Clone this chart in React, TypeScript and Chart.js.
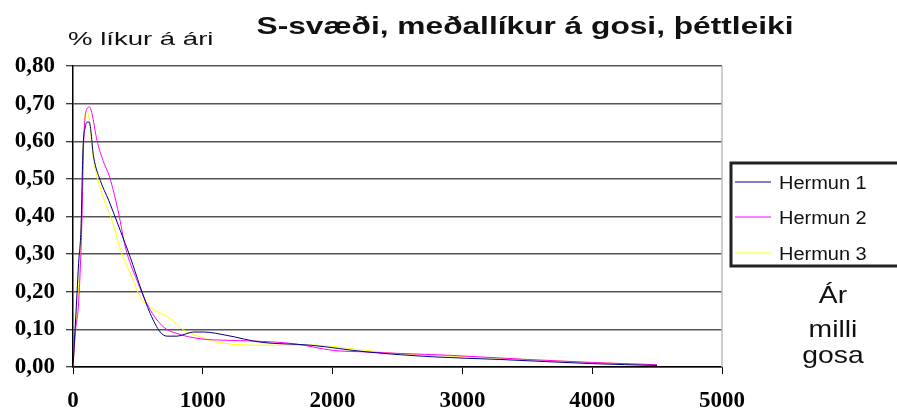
import React, { useEffect, useRef } from "react";
import { Chart, registerables } from "chart.js";

Chart.register(...registerables);

const titleText = "S-svæði, meðallíkur á gosi, þéttleiki";
const yTitleText = "% líkur á ári";
const xTitleLines = ["Ár", "milli", "gosa"];
const seriesNames = ["Hermun 1", "Hermun 2", "Hermun 3"];
const seriesColors = ["#000080", "#FF00FF", "#FFFF00"];

const xTicks = [0, 1000, 2000, 3000, 4000, 5000];
const yTicks = [0, 0.1, 0.2, 0.3, 0.4, 0.5, 0.6, 0.7, 0.8];

const h1X = [0, 31, 43, 62, 77, 95, 110, 125, 159, 210, 275, 364, 441, 518, 595, 672, 724, 801, 929, 1006, 1186, 1443, 1828, 2265, 2778, 3292, 3998, 4499];
const h1Y = [0, 0.196, 0.275, 0.372, 0.58, 0.638, 0.651, 0.651, 0.558, 0.496, 0.443, 0.363, 0.292, 0.213, 0.142, 0.093, 0.082, 0.082, 0.093, 0.093, 0.084, 0.066, 0.058, 0.04, 0.027, 0.02, 0.009, 0.004];

const h2X = [0, 18, 43, 69, 82, 102, 128, 146, 185, 231, 282, 352, 403, 493, 583, 698, 801, 981, 1186, 1392, 1700, 2008, 2265, 2521, 2907, 3500, 4000, 4499];
const h2Y = [0, 0.092, 0.17, 0.39, 0.594, 0.682, 0.691, 0.674, 0.602, 0.549, 0.505, 0.408, 0.319, 0.23, 0.159, 0.106, 0.089, 0.075, 0.071, 0.069, 0.062, 0.044, 0.04, 0.036, 0.031, 0.02, 0.012, 0.006];

const h3X = [0, 20, 45, 65, 80, 100, 115, 159, 223, 300, 377, 455, 518, 595, 750, 852, 981, 1109, 1443, 1880, 2136, 2521, 3000, 3500, 4000, 4499];
const h3Y = [0, 0.1, 0.22, 0.4, 0.6, 0.68, 0.675, 0.549, 0.461, 0.39, 0.301, 0.239, 0.186, 0.159, 0.129, 0.098, 0.08, 0.066, 0.058, 0.058, 0.049, 0.035, 0.028, 0.02, 0.012, 0.006];

const toPts = (xs: number[], ys: number[]) => xs.map((x, i) => ({ x, y: ys[i] }));

// draw text horizontally stretched by factor sx, anchored by align
function drawText(ctx: any, text: string, x: number, y: number, sx: number, align: "left" | "center") {
  const w = ctx.measureText(text).width * sx;
  const left = align === "center" ? x - w / 2 : x;
  ctx.save();
  ctx.translate(left, y);
  ctx.scale(sx, 1);
  ctx.textAlign = "left";
  ctx.fillText(text, 0, 0);
  ctx.restore();
}

const textPlugin = {
  id: "textPlugin",
  afterDraw(chart: any) {
    const ctx = chart.ctx;
    const area = chart.chartArea;
    ctx.save();
    ctx.strokeStyle = "#bdbdbd";
    ctx.lineWidth = 1.5;
    ctx.beginPath();
    ctx.moveTo(area.right, area.top);
    ctx.lineTo(area.right, area.bottom);
    ctx.stroke();

    ctx.fillStyle = "#111";
    ctx.textBaseline = "alphabetic";
    ctx.font = "bold 24px 'Liberation Sans', Arial, sans-serif";
    drawText(ctx, titleText, 525, 34, 1.32, "center");

    ctx.font = "19px 'Liberation Sans', Arial, sans-serif";
    drawText(ctx, yTitleText, 68, 45, 1.45, "left");

    // legend box
    ctx.strokeStyle = "#222";
    ctx.lineWidth = 3;
    ctx.strokeRect(731, 163, 200, 103);
    ctx.font = "18px 'Liberation Sans', Arial, sans-serif";
    const rows = [182, 217, 253];
    seriesNames.forEach((name, i) => {
      ctx.strokeStyle = seriesColors[i];
      ctx.lineWidth = 1;
      ctx.beginPath();
      ctx.moveTo(735, rows[i]);
      ctx.lineTo(771, rows[i]);
      ctx.stroke();
      ctx.fillStyle = "#111";
      ctx.textBaseline = "alphabetic";
      drawText(ctx, name, 779, rows[i] + 6.5, 1.11, "left");
    });

    ctx.font = "24px 'Liberation Sans', Arial, sans-serif";
    ctx.textBaseline = "alphabetic";
    const bl = [303, 337, 363];
    xTitleLines.forEach((t, i) => drawText(ctx, t, 833, bl[i], 1.18, "center"));
    ctx.restore();
  },
};

export default function App() {
  const ref = useRef<HTMLCanvasElement | null>(null);
  useEffect(() => {
    if (!ref.current) return;
    const mk = (i: number, xs: number[], ys: number[]) => ({
      label: seriesNames[i],
      data: toPts(xs, ys),
      borderColor: seriesColors[i],
      backgroundColor: seriesColors[i],
      borderWidth: 1,
      pointRadius: 0,
      fill: false,
      tension: 0.4,
      cubicInterpolationMode: "monotone" as const,
    });
    const chart = new Chart(ref.current, {
      type: "line",
      data: {
        datasets: [mk(0, h1X, h1Y), mk(1, h2X, h2Y), mk(2, h3X, h3Y)],
      },
      options: {
        responsive: false,
        animation: false,
        layout: { padding: { top: 66, right: 175, bottom: 0, left: 0 } },
        plugins: { legend: { display: false }, title: { display: false }, tooltip: { enabled: false } },
        scales: {
          x: {
            type: "linear",
            min: 0,
            max: 5000,
            afterBuildTicks: (s: any) => { s.ticks = xTicks.map((v) => ({ value: v })); },
            afterFit: (s: any) => { s.height = 47; },
            ticks: {
              color: "#000",
              font: { family: "'Liberation Serif', 'Times New Roman', serif", size: 23, weight: "bold" },
              padding: 13,
              maxRotation: 0,
              callback: (v: any) => String(v),
            },
            grid: { drawOnChartArea: false, drawTicks: true, tickLength: 7, tickColor: "#000", tickWidth: 1 },
            border: { display: true, color: "#000", width: 1.5 },
          },
          y: {
            type: "linear",
            min: 0,
            max: 0.8,
            afterBuildTicks: (s: any) => { s.ticks = yTicks.map((v) => ({ value: v })); },
            afterFit: (s: any) => { s.width = 73; },
            ticks: {
              color: "#000",
              font: { family: "'Liberation Serif', 'Times New Roman', serif", size: 23, weight: "bold" },
              padding: 11,
              callback: (v: any) => Number(v).toFixed(2).replace(".", ","),
            },
            grid: { drawOnChartArea: true, color: "#555", lineWidth: 1.5, drawTicks: true, tickLength: 7, tickColor: "#000", tickWidth: 1 },
            border: { display: true, color: "#000", width: 1.5 },
          },
        },
      },
      plugins: [textPlugin],
    });
    return () => chart.destroy();
  }, []);
  return (
    <div style={{ position: "absolute", left: 0, top: 0, width: 897, height: 414, background: "#fff" }}>
      <canvas ref={ref} width={897} height={414} style={{ width: 897, height: 414, display: "block" }} />
    </div>
  );
}
